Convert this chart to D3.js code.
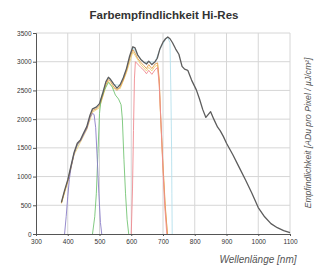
<!DOCTYPE html>
<html><head><meta charset="utf-8">
<script src="https://cdn.jsdelivr.net/npm/d3@7"></script>
<style>body{margin:0;background:#fff}svg{display:block}</style>
</head><body>
<svg id="c" width="319" height="270"></svg>
<script>
const title = "Farbempfindlichkeit Hi-Res";
const xTitle = "Wellenlänge [nm]";
const yTitle = "Empfindlichkeit [ADu pro Pixel / µJ/cm²]";
const xTicks = [300,400,500,600,700,800,900,1000,1100];
const yTicks = [0,500,1000,1500,2000,2500,3000,3500];

const monoNm  = [380,390,400,410,420,430,440,450,460,470,478,490,500,510,520,528,535,545,555,565,575,585,595,605,612,620,630,640,648,655,665,675,682,690,700,708,715,722,730,740,750,760,768,778,790,805,815,825,835,850,860,872,880,890,900,920,940,960,980,1000,1020,1040,1060,1080,1100];
const monoVal = [550,760,940,1180,1420,1580,1640,1760,1870,2070,2180,2210,2270,2450,2650,2730,2690,2610,2540,2600,2720,2880,3100,3260,3240,3120,3040,2990,2960,3010,2950,3000,3060,3220,3340,3400,3430,3400,3330,3220,3130,2920,2870,2850,2680,2510,2350,2170,2030,2130,2000,1860,1800,1700,1580,1380,1160,940,710,460,300,180,110,60,25];

const cyanNm  = [380,400,420,440,460,478,500,520,528,545,565,585,605,620,640,655,675,690,708,715,722,725,727,728,729];
const cyanVal = [545,930,1410,1630,1860,2170,2260,2640,2720,2600,2590,2870,3250,3110,2980,3000,2990,3210,3390,3420,3330,2400,1500,700,0];

const yellowNm  = [380,400,420,440,460,478,500,520,528,545,565,585,605,612,630,648,655,665,675,683,688,693,700,707,714];
const yellowVal = [530,900,1380,1600,1820,2120,2200,2570,2660,2530,2530,2810,3170,3110,2950,2840,2900,2840,2920,2940,2650,1950,1150,450,0];

const orangeNm  = [380,390,400,410,420,430,440,450,460,470,478,490,500,510,520,528,535,545,555,565,575,585,595,605,612,620,630,640,648,655,665,675,683,688,693,700,707,714];
const orangeVal = [540,740,920,1160,1400,1560,1620,1740,1840,2040,2150,2180,2230,2400,2600,2690,2650,2560,2500,2560,2680,2840,3060,3210,3150,3060,2990,2930,2880,2950,2880,2960,2980,2700,2000,1200,500,0];

const redNm  = [600,604,607,610,613,620,630,640,648,655,665,675,683,688,694,700,706,712];
const redVal = [0,800,1800,2700,3000,2960,2900,2850,2790,2850,2780,2860,2900,2600,1900,1100,450,0];

const greenNm  = [478,485,490,495,500,505,515,528,540,550,560,568,572,577,582,587,592];
const greenVal = [0,300,700,1400,2100,2350,2500,2640,2560,2420,2350,2250,2000,1300,700,250,0];

const purpleNm  = [390,395,400,405,410,420,430,440,450,460,470,478,483,488,493,498,503,507];
const purpleVal = [0,300,650,950,1150,1400,1560,1620,1730,1840,2030,2100,2080,1850,1300,700,200,0];

const series = [
  {nm: cyanNm, val: cyanVal, color: "#b4e0ec", w: 0.9},
  {nm: yellowNm, val: yellowVal, color: "#ecd27a", w: 0.9},
  {nm: orangeNm, val: orangeVal, color: "#e39a45", w: 0.9},
  {nm: redNm, val: redVal, color: "#ef8a90", w: 0.9},
  {nm: greenNm, val: greenVal, color: "#74c474", w: 0.9},
  {nm: purpleNm, val: purpleVal, color: "#8a7ec6", w: 0.9},
  {nm: monoNm, val: monoVal, color: "#5d5d5d", w: 1.3}
];

const svg = d3.select("#c");
const x = d3.scaleLinear().domain([300,1100]).range([36,290]);
const y = d3.scaleLinear().domain([0,3500]).range([234,33]);

// grid
svg.append("g").selectAll("line").data(xTicks.slice(1)).join("line")
  .attr("x1", d=>x(d)).attr("x2", d=>x(d)).attr("y1", y(0)).attr("y2", y(3500))
  .attr("stroke", "#d6d6d6").attr("stroke-width", 1);
svg.append("g").selectAll("line").data(yTicks.slice(1)).join("line")
  .attr("x1", x(300)).attr("x2", x(1100)).attr("y1", d=>y(d)).attr("y2", d=>y(d))
  .attr("stroke", "#d6d6d6").attr("stroke-width", 1);

// axes
const fontTick = "'Liberation Sans', Arial, sans-serif";
const fmt = d3.format("d");
const ax = svg.append("g").attr("transform", `translate(0,${y(0)})`)
  .call(d3.axisBottom(x).tickValues(xTicks).tickFormat(fmt).tickSize(2).tickPadding(3));
const ay = svg.append("g").attr("transform", `translate(${x(300)},0)`)
  .call(d3.axisLeft(y).tickValues(yTicks).tickFormat(fmt).tickSize(3).tickPadding(1.5));
[ax, ay].forEach(g => {
  g.select(".domain").attr("stroke", "#555").attr("stroke-width", 1);
  g.selectAll(".tick line").attr("stroke", "#555");
  g.selectAll("text").attr("font-family", fontTick).attr("font-size", "6.5px").attr("fill", "#333");
});

// lines
const line = d3.line().x(d=>x(d[0])).y(d=>y(d[1]));
series.forEach(s => {
  svg.append("path").datum(s.nm.map((n,i)=>[n, s.val[i]]))
    .attr("d", line).attr("fill", "none").attr("stroke", s.color)
    .attr("stroke-width", s.w).attr("stroke-linejoin", "round");
});

// texts
svg.append("text").attr("x", 164).attr("y", 18.5).attr("text-anchor", "middle")
  .attr("font-family", fontTick).attr("font-weight", "bold").attr("font-size", "11.5px")
  .attr("fill", "#333").text(title);
svg.append("text").attr("x", 258).attr("y", 263).attr("text-anchor", "middle")
  .attr("font-family", fontTick).attr("font-style", "italic").attr("font-size", "10px")
  .attr("fill", "#555").text(xTitle);
svg.append("text").attr("transform", "translate(311,133) rotate(-90)").attr("text-anchor", "middle")
  .attr("font-family", fontTick).attr("font-style", "italic").attr("font-size", "8.6px")
  .attr("fill", "#555").text(yTitle);
</script>
</body></html>
